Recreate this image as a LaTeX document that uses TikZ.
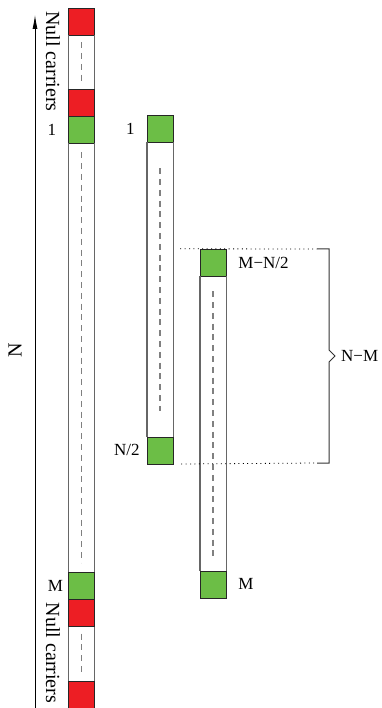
\documentclass[tikz,border=0pt]{standalone}
\usepackage{fontspec}
\setmainfont{Liberation Serif}
\usetikzlibrary{arrows.meta,positioning}
\definecolor{nullred}{RGB}{237,30,36}
\definecolor{pilotgreen}{RGB}{108,190,70}

\begin{document}
\begin{tikzpicture}[
    x=1pt, y=-1pt,
    node distance=0pt,
    every node/.style={font=\fontsize{17}{20}\selectfont},
    sub/.style={rectangle, draw=black!85, fill=pilotgreen, minimum width=26pt,
                minimum height=27pt, inner sep=0pt},
    nullsub/.style={sub, fill=nullred},
    band/.style={rectangle, minimum width=26pt, inner sep=0pt},
    side/.style={line width=1.4pt, black!60},
    elided/.style={line width=1.6pt, black!50, dash pattern=on 6pt off 4.8pt},
    big/.style={font=\fontsize{20}{24}\selectfont},
    guide/.style={dash pattern=on 1pt off 3.4pt, line width=0.8pt},
    bracket/.style={line width=1pt, black!80},
]
\useasboundingbox (0,0) rectangle (381,708);

% whole symbol, null carriers on both ends
\node[nullsub] (nullA) at (81.5,21.5) {};
\node[band, minimum height=53pt, below=of nullA] (gapA) {};
\node[nullsub, below=of gapA] (nullB) {};
\node[sub, below=of nullB] (first) {};
\node[band, minimum height=428pt, below=of first] (body) {};
\node[sub, below=of body] (last) {};
\node[nullsub, below=of last] (nullC) {};
\node[band, minimum height=54pt, below=of nullC] (gapC) {};
\node[nullsub, below=of gapC] (nullD) {};

% first half
\node[sub] (midfirst) at (160,128.5) {};
\node[band, minimum height=294pt, below=of midfirst] (midbody) {};
\node[sub, below=of midbody] (midlast) {};

% second half
\node[sub] (rfirst) at (213,262.5) {};
\node[band, minimum height=294pt, below=of rfirst] (rbody) {};
\node[sub, below=of rbody] (rlast) {};

\foreach \b/\o in {gapA/7, body/9, gapC/7, midbody/26, rbody/15} {
  \draw[side] (\b.north west) -- (\b.south west) (\b.north east) -- (\b.south east);
  \draw[elided] ([yshift=-\o pt]\b.north) -- ([yshift=\o pt]\b.south);
}

% labels
\node[left=12pt of first, inner sep=0pt] (lfirst) {1};
\node[left=5pt of last, inner sep=0pt] (llast) {M};
\node[left=12pt of midfirst, inner sep=0pt] (lmidfirst) {1};
\node[left=7pt of midlast, inner sep=0pt] (lmidlast) {N/2};
\node[right=12pt of rfirst, inner sep=0pt] (lrfirst) {M−N/2};
\node[right=12pt of rlast, inner sep=0pt] (lrlast) {M};

\node[big, rotate=-90] (nulltop) at (53,61.5) {Null carriers};
\node[big, rotate=-90] (nullbot) at (53,653) {Null carriers};
\node[big, rotate=90] (len) at (15,350) {N};

% length axis
\coordinate (axbot) at (35,710);
\coordinate (axtop) at (35,15);
\draw[-{Latex[length=14pt,width=5pt]}, line width=0.8pt] (axbot) -- (axtop);

% overlap bracket
\coordinate (bt) at (317,249);
\coordinate (bb) at (317,463);
\coordinate (tip) at (335,356);
\draw[guide] (rfirst.north -| midbody.east) ++(7,0) -- (bt);
\draw[guide] (midlast.south east) ++(8,0) -- (bb);
\draw[bracket] (bt) -- ++(12,0) -- ++(0,101) -- (tip) -- ++(-6,6) -- ++(0,101) -- (bb);
\node[right=6pt of tip, inner sep=0pt] (lgap) {N−M};
\end{tikzpicture}
\end{document}
